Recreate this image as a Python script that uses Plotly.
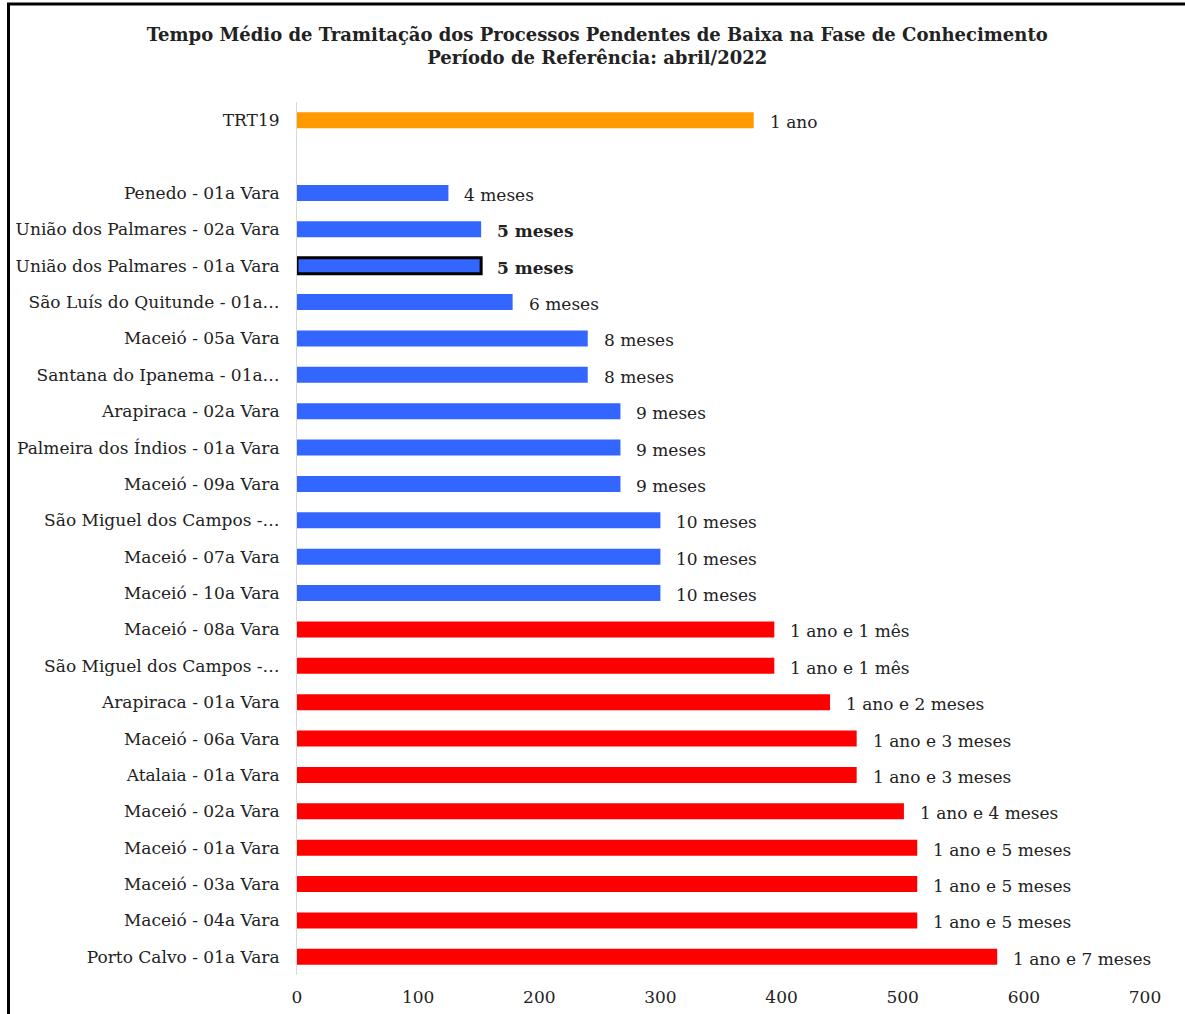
import plotly.graph_objects as go

# ---- data (top to bottom, None = blank spacer row) ----
categorias = [
    "TRT19", None,
    "Penedo - 01a Vara",
    "União dos Palmares - 02a Vara",
    "União dos Palmares - 01a Vara",
    "São Luís do Quitunde - 01a…",
    "Maceió - 05a Vara",
    "Santana do Ipanema - 01a…",
    "Arapiraca - 02a Vara",
    "Palmeira dos Índios - 01a Vara",
    "Maceió - 09a Vara",
    "São Miguel dos Campos -…",
    "Maceió - 07a Vara",
    "Maceió - 10a Vara",
    "Maceió - 08a Vara",
    "São Miguel dos Campos -…",
    "Arapiraca - 01a Vara",
    "Maceió - 06a Vara",
    "Atalaia - 01a Vara",
    "Maceió - 02a Vara",
    "Maceió - 01a Vara",
    "Maceió - 03a Vara",
    "Maceió - 04a Vara",
    "Porto Calvo - 01a Vara",
]
dias = [377, None, 125, 152, 152, 178, 240, 240, 267, 267, 267, 300, 300, 300,
        394, 394, 440, 462, 462, 501, 512, 512, 512, 578]
rotulos = ["1 ano", None, "4 meses", "<b>5 meses</b>", "<b>5 meses</b>", "6 meses",
           "8 meses", "8 meses", "9 meses", "9 meses", "9 meses", "10 meses",
           "10 meses", "10 meses", "1 ano e 1 mês", "1 ano e 1 mês",
           "1 ano e 2 meses", "1 ano e 3 meses", "1 ano e 3 meses",
           "1 ano e 4 meses", "1 ano e 5 meses", "1 ano e 5 meses",
           "1 ano e 5 meses", "1 ano e 7 meses"]
grupos = ["trt", None, "abaixo", "abaixo", "destaque", "abaixo", "abaixo", "abaixo",
          "abaixo", "abaixo", "abaixo", "abaixo", "abaixo", "abaixo",
          "acima", "acima", "acima", "acima", "acima", "acima", "acima",
          "acima", "acima", "acima"]
x_ticks = [0, 100, 200, 300, 400, 500, 600, 700]

cores_grupo = {"trt": "#FF9900", "abaixo": "#3366FF", "destaque": "#3366FF", "acima": "#FF0000"}

n = len(categorias)
pos, val, cats, cols, lw, txt = [], [], [], [], [], []
for i, c in enumerate(categorias):
    if c is None:
        continue
    pos.append(n - 1 - i)
    val.append(dias[i])
    cats.append(c)
    cols.append(cores_grupo[grupos[i]])
    lw.append(3 if grupos[i] == "destaque" else 0)
    txt.append(rotulos[i])

FONT = "DejaVu Serif"

fig = go.Figure(go.Bar(
    x=val, y=pos, orientation="h", width=0.44,
    marker=dict(color=cols, line=dict(color="black", width=lw)),
    hoverinfo="skip",
))

for p, v, t in zip(pos, val, txt):
    fig.add_annotation(x=v, y=p, text=t, showarrow=False, xanchor="left",
                       yanchor="middle", xshift=14, yshift=-2,
                       font=dict(family=FONT, size=17, color="#222222"))

L, R, T, B = 297, 40, 102, 39
W, H = 1185, 1014
pw, ph = W - L - R, H - T - B

def px(xp):
    return (xp - L) / pw

def py(yp):
    return (H - B - yp) / ph

fig.add_shape(type="line", xref="paper", yref="paper",
              x0=px(8.5), x1=px(8.5), y0=py(3), y1=py(1020),
              line=dict(color="black", width=3))
fig.add_shape(type="line", xref="paper", yref="paper",
              x0=px(7), x1=px(1190), y0=py(4), y1=py(4),
              line=dict(color="black", width=3))

fig.update_layout(
    width=W, height=H,
    margin=dict(l=L, r=R, t=T, b=B, autoexpand=False),
    paper_bgcolor="white", plot_bgcolor="white",
    showlegend=False,
    title=dict(
        text="<b>Tempo Médio de Tramitação dos Processos Pendentes de Baixa na Fase de Conhecimento</b><br>"
             "<b>Período de Referência: abril/2022</b>",
        x=0.504, xanchor="center", xref="container",
        y=1 - 41 / H, yanchor="middle", yref="container",
        font=dict(family=FONT, size=18, color="#222222"),
    ),
    font=dict(family=FONT, size=17, color="#222222"),
    xaxis=dict(range=[0, 700], tickvals=x_ticks, showgrid=False, zeroline=False,
               showline=False, ticks="", ticklabelstandoff=10, automargin=False,
               tickfont=dict(family=FONT, size=17, color="#222222")),
    yaxis=dict(range=[-0.5, n - 0.5], tickvals=pos, ticktext=cats,
               showgrid=False, zeroline=False, showline=True, automargin=False,
               linecolor="#D9D9D9", linewidth=1, ticks="", ticklabelstandoff=13,
               tickfont=dict(family=FONT, size=17, color="#222222")),
)

fig.write_html("out.html", config={"displayModeBar": False},
               post_script="document.body.style.margin='0px';")
